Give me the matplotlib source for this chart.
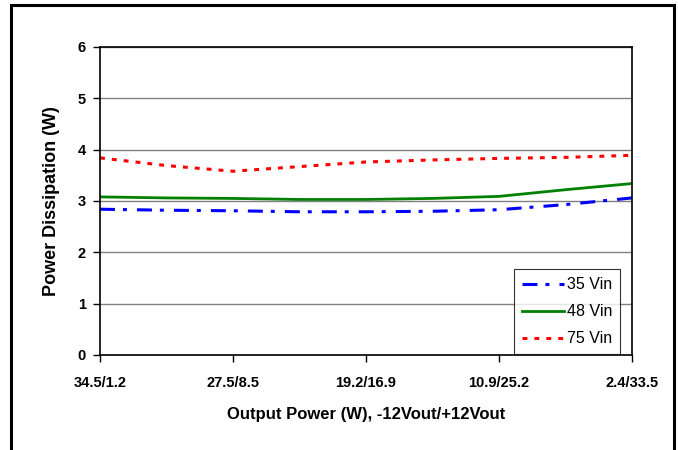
import matplotlib
matplotlib.use('Agg')
import matplotlib.pyplot as plt
from matplotlib.patches import Rectangle

# Data (half-step positions between the labelled ticks)
x_pos = [0, 0.5, 1, 1.5, 2, 2.5, 3, 3.5, 4]
tick_labels = ['34.5/1.2', '27.5/8.5', '19.2/16.9', '10.9/25.2', '2.4/33.5']
vin_35 = [2.84, 2.82, 2.81, 2.79, 2.79, 2.80, 2.83, 2.93, 3.06]
vin_48 = [3.08, 3.06, 3.05, 3.03, 3.03, 3.05, 3.09, 3.22, 3.34]
vin_75 = [3.84, 3.69, 3.58, 3.67, 3.76, 3.80, 3.83, 3.85, 3.89]

plt.rcParams['font.family'] = ['Liberation Sans', 'DejaVu Sans']

W, H = 678, 450
fig = plt.figure(figsize=(W / 100, H / 100), dpi=100)
ax = fig.add_axes([100 / W, 1 - 355 / H, 532 / W, 308 / H])

# outer chart frame
fig.patches.append(Rectangle((11 / W, -0.05), 663 / W, 1 - 5 / H + 0.05,
                             transform=fig.transFigure, fill=False,
                             edgecolor='black', linewidth=2.2))

ax.plot(x_pos, vin_35, color='#0000ff', linewidth=2.2,
        dashes=(4.9, 2.6, 1.3, 3.3), label='35 Vin')
ax.plot(x_pos, vin_48, color='#008000', linewidth=2, label='48 Vin')
ax.plot(x_pos, vin_75, color='#ff0000', linewidth=2.2,
        dashes=(1.6, 2.3), label='75 Vin')

ax.set_xlim(0, 4)
ax.set_ylim(0, 6)
ax.set_xticks(range(5))
ax.set_xticklabels(tick_labels, fontsize=10.5, fontweight='bold')
ax.set_yticks(range(7))
ax.set_yticklabels([str(v) for v in range(7)], fontsize=10.5, fontweight='bold')
ax.tick_params(direction='out', length=5, width=1, color='black', pad=5)
ax.tick_params(axis='x', pad=10)

ax.grid(axis='y', color='#808080', linewidth=1)
ax.set_axisbelow(True)
for s in ax.spines.values():
    s.set_color('black')
    s.set_linewidth(1.2)

ax.set_xlabel('Output Power (W), -12Vout/+12Vout', fontsize=12,
              fontweight='bold', labelpad=12)
ax.set_ylabel('Power Dissipation (W)', fontsize=13, fontweight='bold',
              labelpad=13)

leg = ax.legend(loc='lower right', bbox_to_anchor=(0.978, 0.002),
                fontsize=11.5, frameon=True, fancybox=False,
                handlelength=2.6, handletextpad=0.2, borderpad=0.5,
                labelspacing=0.75, borderaxespad=0)
leg.get_frame().set_edgecolor('black')
leg.get_frame().set_linewidth(0.8)

fig.savefig('out.png', dpi=100)
